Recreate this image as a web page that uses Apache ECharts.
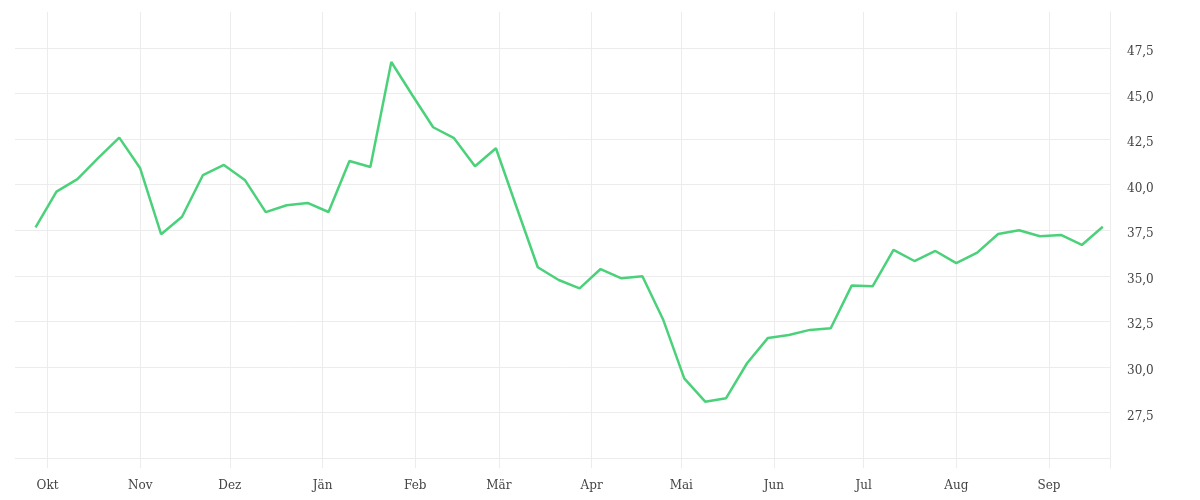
<!DOCTYPE html>
<html>
<head>
<meta charset="utf-8">
<script src="https://cdn.jsdelivr.net/npm/echarts@6/dist/echarts.min.js"></script>
<style>
    html, body { margin: 0; padding: 0; background: #fff; }
    #chart { width: 1200px; height: 500px; }
</style>
</head>
<body>
<div id="chart"></div>
<script>
// weekly observations
var weekDates = [
    '2022-09-27', '2022-10-04', '2022-10-11', '2022-10-18', '2022-10-25',
    '2022-11-01', '2022-11-08', '2022-11-15', '2022-11-22', '2022-11-29',
    '2022-12-06', '2022-12-13', '2022-12-20', '2022-12-27',
    '2023-01-03', '2023-01-10', '2023-01-17', '2023-01-24', '2023-01-31',
    '2023-02-07', '2023-02-14', '2023-02-21', '2023-02-28',
    '2023-03-07', '2023-03-14', '2023-03-21', '2023-03-28',
    '2023-04-04', '2023-04-11', '2023-04-18', '2023-04-25',
    '2023-05-02', '2023-05-09', '2023-05-16', '2023-05-23', '2023-05-30',
    '2023-06-06', '2023-06-13', '2023-06-20', '2023-06-27',
    '2023-07-04', '2023-07-11', '2023-07-18', '2023-07-25',
    '2023-08-01', '2023-08-08', '2023-08-15', '2023-08-22', '2023-08-29',
    '2023-09-05', '2023-09-12', '2023-09-19'
];

var weekValues = [
    37.66, 39.62, 40.30, 41.47, 42.58,
    40.90, 37.28, 38.24, 40.53, 41.08,
    40.26, 38.49, 38.87, 39.00,
    38.50, 41.30, 40.97, 46.73, 44.92,
    43.15, 42.55, 41.01, 42.00,
    38.72, 35.47, 34.77, 34.31,
    35.37, 34.86, 34.97, 32.57,
    29.37, 28.09, 28.28, 30.20, 31.59,
    31.75, 32.03, 32.12, 34.46,
    34.42, 36.42, 35.81, 36.36,
    35.69, 36.27, 37.29, 37.50, 37.17,
    37.24, 36.69, 37.69
];

// month tick positions and their labels
var monthTicks = [
    [2022, 9], [2022, 10], [2022, 11], [2023, 0], [2023, 1], [2023, 2],
    [2023, 3], [2023, 4], [2023, 5], [2023, 6], [2023, 7], [2023, 8]
];
var monthNames = ['Jän', 'Feb', 'Mär', 'Apr', 'Mai', 'Jun', 'Jul', 'Aug', 'Sep', 'Okt', 'Nov', 'Dez'];

var yMin = 25, yMax = 47.5, yStep = 2.5;
var xStart = +new Date(2022, 8, 20, 3);
var xEnd = +new Date(2023, 8, 21, 10);

var gridColor = '#ececec';
var textColor = '#444';
var fontName = 'DejaVu Serif';

var monthValues = [];
for (var i = 0; i < monthTicks.length; i++) {
    monthValues.push(+new Date(monthTicks[i][0], monthTicks[i][1], 1));
}

var seriesData = [];
for (var i = 0; i < weekDates.length; i++) {
    var p = weekDates[i].split('-');
    seriesData.push([+new Date(+p[0], +p[1] - 1, +p[2]), weekValues[i]]);
}

var option = {
    backgroundColor: '#fff',
    animation: false,
    grid: [
        { left: 15, right: 90, top: 48, bottom: 42 },
        { left: 15, right: 90, top: 12, bottom: 32 }
    ],
    xAxis: [
        {
            gridIndex: 0,
            type: 'value',
            min: xStart,
            max: xEnd,
            show: false
        },
        {
            gridIndex: 1,
            type: 'value',
            min: xStart,
            max: xEnd,
            axisLine: { show: false },
            axisTick: { show: false, customValues: monthValues },
            splitLine: { show: true, lineStyle: { color: gridColor, width: 1 } },
            axisLabel: {
                customValues: monthValues,
                margin: 12,
                color: textColor,
                fontFamily: fontName,
                fontSize: 12,
                formatter: function (v) {
                    return monthNames[new Date(v).getMonth()];
                }
            }
        }
    ],
    yAxis: [
        {
            gridIndex: 0,
            type: 'value',
            position: 'right',
            min: yMin,
            max: yMax,
            interval: yStep,
            axisLine: { show: false },
            axisTick: { show: false },
            splitLine: { show: true, lineStyle: { color: gridColor, width: 1 } },
            axisLabel: {
                showMinLabel: false,
                margin: 17,
                verticalAlign: 'top',
                lineHeight: 8,
                color: textColor,
                fontFamily: fontName,
                fontSize: 12,
                formatter: function (v) {
                    return v.toFixed(1).replace('.', ',');
                }
            }
        },
        {
            gridIndex: 1,
            type: 'value',
            position: 'right',
            min: 0,
            max: 1,
            axisLine: { show: true, lineStyle: { color: gridColor, width: 1 } },
            axisTick: { show: false },
            axisLabel: { show: false },
            splitLine: { show: false }
        }
    ],
    series: [
        {
            type: 'line',
            xAxisIndex: 0,
            yAxisIndex: 0,
            data: seriesData,
            showSymbol: false,
            lineStyle: { color: '#4cd17b', width: 2.5 },
            itemStyle: { color: '#4cd17b' },
            z: 5
        }
    ]
};

var myChart = echarts.init(document.getElementById('chart'));
myChart.setOption(option);
</script>
</body>
</html>
